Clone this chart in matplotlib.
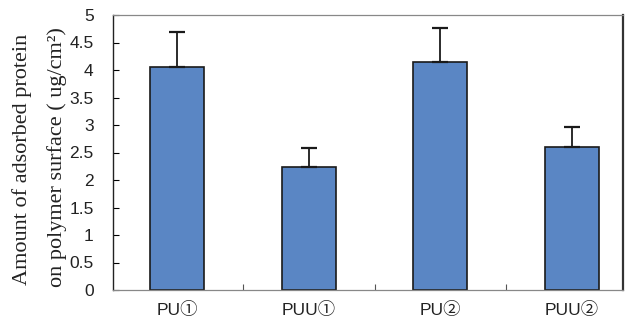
import matplotlib
matplotlib.use("Agg")
import matplotlib.pyplot as plt
import numpy as np

categories = ["PU①", "PUU①", "PU②", "PUU②"]
values = [4.05, 2.24, 4.15, 2.60]
errors = [0.64, 0.34, 0.61, 0.36]
yticks = [0, 0.5, 1, 1.5, 2, 2.5, 3, 3.5, 4, 4.5, 5]
ytick_labels = ["0", "0.5", "1", "1.5", "2", "2.5", "3", "3.5", "4", "4.5", "5"]

fig = plt.figure(figsize=(6.29, 3.28), dpi=100)
ax = fig.add_axes([113/629, 38/328, 510/629, 275/328])

x = np.arange(len(categories))
ax.bar(x, values, width=0.41, color="#5a86c4", edgecolor="#1a1a1a", linewidth=1.2, zorder=2)
ax.errorbar(x, values, yerr=[np.zeros(len(errors)), errors], fmt="none",
            ecolor="#1a1a1a", elinewidth=1.3, capsize=5.5, capthick=1.6, zorder=3)

ax.set_xlim(-0.49, 3.39)
ax.set_ylim(0, 5)
ax.set_yticks(yticks)
ax.set_yticklabels(ytick_labels, family=["Liberation Sans"], fontsize=12.5, color="#222222")
ax.set_xticks([0.5, 1.5, 2.5])
ax.set_xticklabels([])
ax.tick_params(axis="x", direction="in", length=4, width=0.8, color="#555555")
ax.tick_params(axis="y", direction="in", length=4, width=0.8, pad=14)

for xi, lab in zip(x, categories):
    ax.text(xi, -0.36, lab, ha="center", va="center", fontsize=12.5,
            family=["Liberation Sans", "Noto Sans CJK JP", "DejaVu Sans"],
            transform=ax.transData, color="#222222")

for s in ["top", "bottom"]:
    ax.spines[s].set_color("#888888")
    ax.spines[s].set_linewidth(0.9)
ax.spines["left"].set_color("#222222")
ax.spines["left"].set_linewidth(1.0)
ax.spines["right"].set_color("#333333")
ax.spines["right"].set_linewidth(1.6)

fig.text(22/629, 1 - 159/328, "Amount of adsorbed protein", rotation=90, ha="center", va="center",
         fontsize=16, family="Liberation Serif", color="#222222")
fig.text(57/629, 1 - 157/328, "on polymer surface ( ug/cm²)", rotation=90, ha="center", va="center",
         fontsize=16, family="Liberation Serif", color="#222222")

fig.savefig("out.png", dpi=100)
